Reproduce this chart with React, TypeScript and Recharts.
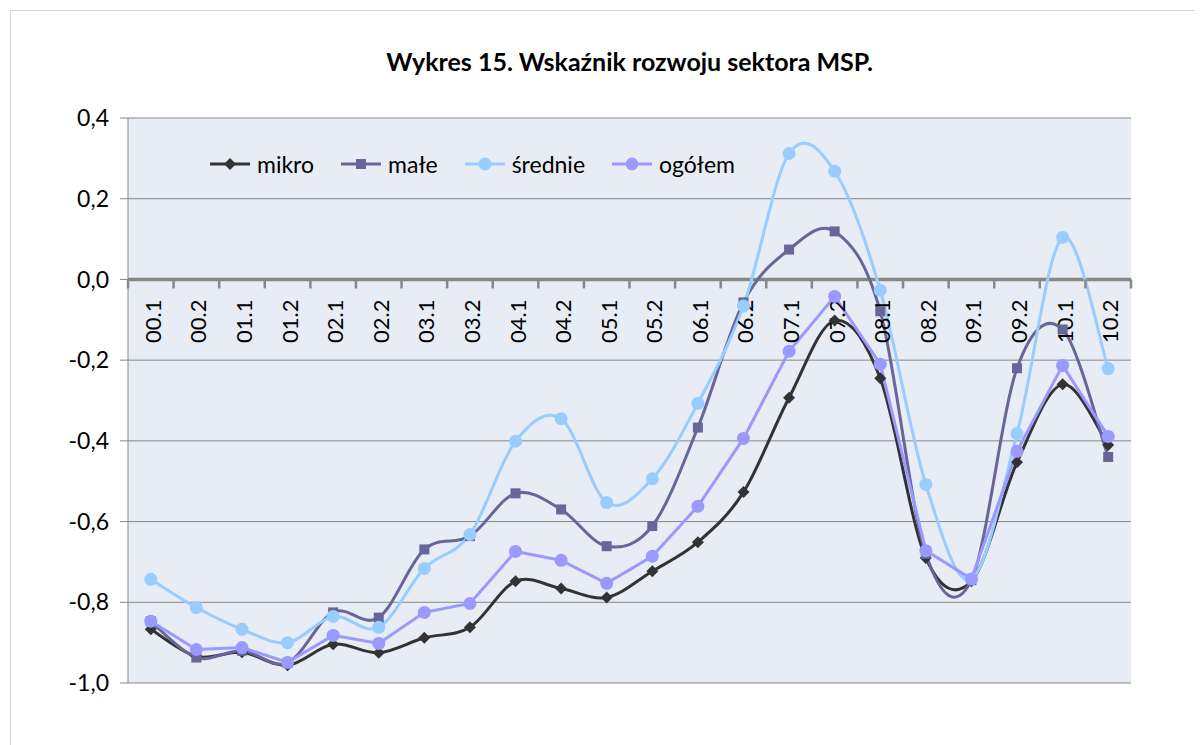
import React from 'react';
import { LineChart, Line, XAxis, YAxis, CartesianGrid, ReferenceLine, Legend } from 'recharts';

// values
const categories = ['00.1', '00.2', '01.1', '01.2', '02.1', '02.2', '03.1', '03.2', '04.1', '04.2', '05.1', '05.2', '06.1', '06.2', '07.1', '07.2', '08.1', '08.2', '09.1', '09.2', '10.1', '10.2'];
const mikro = [-0.867, -0.934, -0.924, -0.956, -0.904, -0.925, -0.888, -0.862, -0.748, -0.766, -0.788, -0.723, -0.651, -0.527, -0.293, -0.102, -0.245, -0.69, -0.748, -0.453, -0.26, -0.41];
const male = [-0.847, -0.937, -0.92, -0.95, -0.825, -0.838, -0.669, -0.636, -0.53, -0.57, -0.661, -0.611, -0.367, -0.057, 0.074, 0.119, -0.079, -0.68, -0.745, -0.22, -0.124, -0.44];
const srednie = [-0.743, -0.813, -0.867, -0.9, -0.835, -0.862, -0.716, -0.632, -0.401, -0.345, -0.553, -0.494, -0.307, -0.066, 0.312, 0.268, -0.027, -0.508, -0.742, -0.382, 0.104, -0.221];
const ogolem = [-0.847, -0.917, -0.912, -0.949, -0.882, -0.902, -0.825, -0.803, -0.674, -0.696, -0.753, -0.686, -0.562, -0.394, -0.178, -0.042, -0.21, -0.672, -0.742, -0.426, -0.213, -0.389];
const yTicks = [0.4, 0.2, 0, -0.2, -0.4, -0.6, -0.8, -1.0];

const data = categories.map((cat, i) => ({
  cat,
  axis: 0,
  mikro: mikro[i],
  male: male[i],
  srednie: srednie[i],
  ogolem: ogolem[i],
}));

const W = 1192;
const H = 734;
const YAXIS_W = 117;
const MARGIN = { top: 107, right: 72, bottom: 62, left: 0 };
const HALF_BAND = (W - YAXIS_W - MARGIN.right) / categories.length / 2;
const FONT = 'Lato, "Open Sans", sans-serif';
const GRID = '#878787';

// Excel-like smoothed line (catmull-rom through the points)
const smoothCurve = (context: any) => {
  let pts: number[][] = [];
  return {
    areaStart() {},
    areaEnd() {},
    lineStart() {
      pts = [];
    },
    point(x: number, y: number) {
      pts.push([+x, +y]);
    },
    lineEnd() {
      if (!pts.length) return;
      context.moveTo(pts[0][0], pts[0][1]);
      for (let i = 0; i < pts.length - 1; i++) {
        const p0 = pts[Math.max(i - 1, 0)];
        const p1 = pts[i];
        const p2 = pts[i + 1];
        const p3 = pts[Math.min(i + 2, pts.length - 1)];
        context.bezierCurveTo(
          p1[0] + (p2[0] - p0[0]) / 6,
          p1[1] + (p2[1] - p0[1]) / 6,
          p2[0] - (p3[0] - p1[0]) / 6,
          p2[1] - (p3[1] - p1[1]) / 6,
          p2[0],
          p2[1]
        );
      }
    },
  };
};

const Diamond = ({ cx, cy, color, size }: any) => (
  <path d={`M${cx},${cy - size} L${cx + size},${cy} L${cx},${cy + size} L${cx - size},${cy} Z`} fill={color} />
);
const Square = ({ cx, cy, color, size }: any) => (
  <rect x={cx - size} y={cy - size} width={size * 2} height={size * 2} fill={color} />
);
const Circle = ({ cx, cy, color, size }: any) => <circle cx={cx} cy={cy} r={size} fill={color} />;

const SERIES = [
  { key: 'mikro', name: 'mikro', color: '#333333', Marker: Diamond, size: 6, smooth: true },
  { key: 'male', name: 'małe', color: '#666699', Marker: Square, size: 5, smooth: true },
  { key: 'srednie', name: 'średnie', color: '#99ccff', Marker: Circle, size: 6.5, smooth: true },
  { key: 'ogolem', name: 'ogółem', color: '#9999ff', Marker: Circle, size: 6.5, smooth: false },
];

// category labels + tick marks drawn on the zero line
const AxisLabel = (props: any) => {
  const { cx, cy, index, payload } = props;
  if (cx == null || cy == null) return <g key={`ax-${index}`} />;
  return (
    <g key={`ax-${index}`}>
      <line x1={cx - HALF_BAND} x2={cx - HALF_BAND} y1={cy} y2={cy + 9} stroke={GRID} strokeWidth={2.5} />
      {index === categories.length - 1 && (
        <line x1={cx + HALF_BAND} x2={cx + HALF_BAND} y1={cy} y2={cy + 9} stroke={GRID} strokeWidth={2.5} />
      )}
      <text
        x={cx + 10}
        y={cy + 20}
        transform={`rotate(-90 ${cx + 10} ${cy + 20})`}
        textAnchor="end"
        fontSize={22}
        fontFamily={FONT}
        fill="#000"
      >
        {payload.cat}
      </text>
    </g>
  );
};

const renderLegend = () => (
  <div style={{ display: 'flex', alignItems: 'center', fontFamily: FONT, fontSize: 23, color: '#000', whiteSpace: 'nowrap' }}>
    {SERIES.map((s) => (
      <div key={s.key} style={{ display: 'flex', alignItems: 'center', marginRight: 27 }}>
        <svg width={40} height={16} style={{ marginRight: 7 }}>
          <line x1={0} x2={40} y1={8} y2={8} stroke={s.color} strokeWidth={3} />
          <s.Marker cx={20} cy={8} color={s.color} size={s.size} />
        </svg>
        <span>{s.name}</span>
      </div>
    ))}
  </div>
);

const fmt = (v: number) => v.toFixed(1).replace('.', ',');

export default function App() {
  return (
    <div style={{ position: 'relative', marginLeft: 2, marginTop: 2, width: W, height: H, borderLeft: '1px solid #d4d4d4', borderTop: '1px solid #d4d4d4' }}>
      <div
        style={{
          position: 'absolute',
          top: 35,
          left: YAXIS_W,
          width: W - YAXIS_W - MARGIN.right,
          textAlign: 'center',
          fontFamily: FONT,
          fontWeight: 700,
          fontSize: 25,
          lineHeight: '30px',
          color: '#000',
          zIndex: 2,
        }}
      >
        Wykres 15. Wskaźnik rozwoju sektora MSP.
      </div>
      <LineChart width={W} height={H} data={data} margin={MARGIN}>
        <CartesianGrid vertical={false} stroke={GRID} fill="#e8ecf4" />
        <XAxis dataKey="cat" hide padding={{ left: HALF_BAND, right: HALF_BAND }} />
        <YAxis
          domain={[-1, 0.4]}
          ticks={yTicks}
          tickFormatter={fmt}
          width={YAXIS_W}
          tickSize={8}
          tickMargin={11}
          stroke={GRID}
          tick={{ fontSize: 23, fontFamily: FONT, fill: '#000' }}
          allowDataOverflow
        />
        <ReferenceLine y={0} stroke={GRID} strokeWidth={3.5} />
        <Line dataKey="axis" stroke="none" dot={AxisLabel} activeDot={false} legendType="none" isAnimationActive={false} />
        {SERIES.map((s) => (
          <Line
            key={s.key}
            dataKey={s.key}
            name={s.name}
            type={s.smooth ? (smoothCurve as any) : 'linear'}
            stroke={s.color}
            strokeWidth={3}
            dot={(p: any) => <s.Marker key={`${s.key}-${p.index}`} cx={p.cx} cy={p.cy} color={s.color} size={s.size} />}
            activeDot={false}
            isAnimationActive={false}
          />
        ))}
        <Legend layout="horizontal" verticalAlign="middle" align="center" wrapperStyle={{ left: 199, top: 139, width: 'auto' }} content={renderLegend} />
      </LineChart>
    </div>
  );
}
